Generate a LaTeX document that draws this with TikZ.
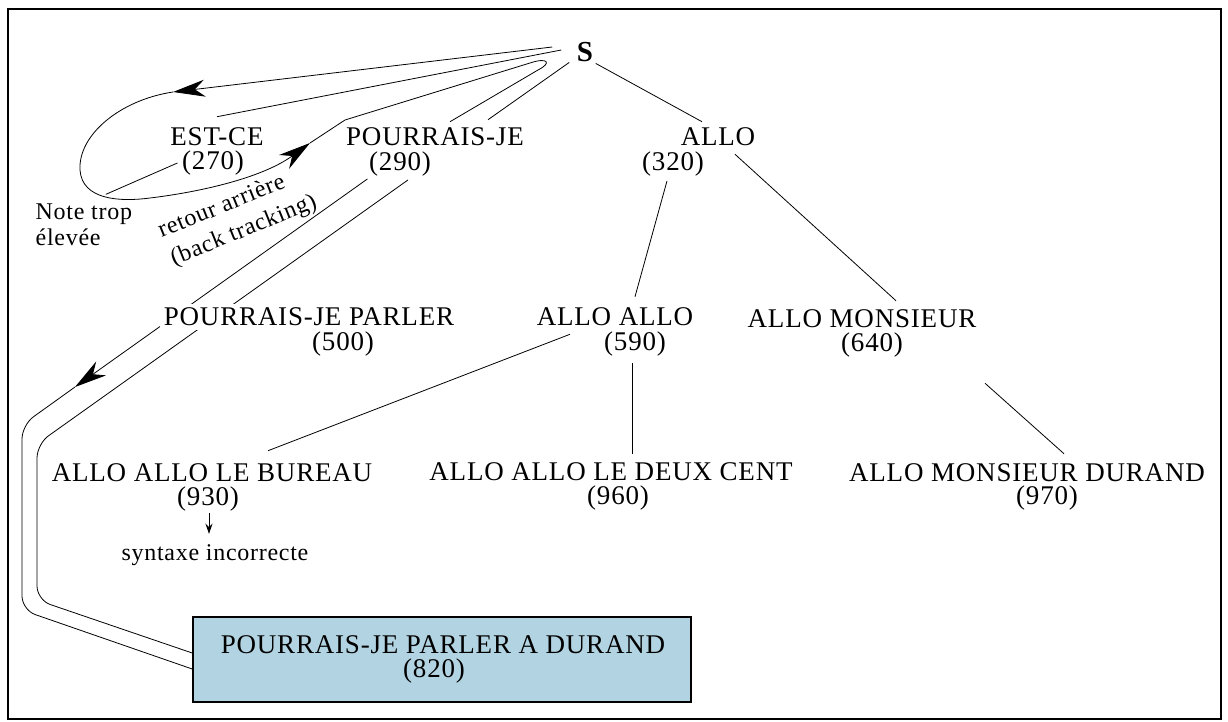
\documentclass[tikz,border=0pt]{standalone}
\usepackage{fontspec}
\setmainfont{Liberation Serif}
\newfontfamily\capsfont{Liberation Serif}[LetterSpace=3]
\usetikzlibrary{arrows.meta,calc}
\pgfdeclarelayer{bg}
\pgfsetlayers{bg,main}
\definecolor{goalblue}{RGB}{178,211,225}

\begin{document}
\begin{tikzpicture}[x=0.5pt, y=-0.5pt, line width=0.7pt,
    every node/.style={inner sep=2pt},
    lbl/.style={font=\capsfont\fontsize{13.5}{15}\selectfont},
    note/.style={font=\capsfont\fontsize{12}{13}\selectfont},
    root/.style={font=\bfseries\fontsize{14.5}{16}\selectfont},
    cover/.style={fill=white},
    goal/.style={draw, line width=0.8pt, fill=goalblue, inner sep=0pt,
        minimum width=249pt, minimum height=42.5pt},
    bigarrow/.style={-{Stealth[length=16pt, width=8.5pt, inset=5pt]}}]
    \useasboundingbox (0,0) rectangle (1228,722);

    \node[root] (S) at (585,52) {S};
    \node[lbl] (estce) at (217,137) {EST-CE};
    \node[lbl] (n270) at (213,163) {(270)};
    \node[lbl] (pje) at (435,137) {POURRAIS-JE};
    \node[lbl] (n290) at (400,164) {(290)};
    \node[lbl] (allo) at (718,137) {ALLO};
    \node[lbl] (n320) at (673,164) {(320)};

    \node[lbl, cover] (parler) at (309,317) {POURRAIS-JE PARLER};
    \node[lbl] (n500) at (343,344) {(500)};
    \node[lbl] (alloallo) at (615,317) {ALLO ALLO};
    \node[lbl] (n590) at (635,344) {(590)};
    \node[lbl] (monsieur) at (862,319) {ALLO MONSIEUR};
    \node[lbl] (n640) at (872,345) {(640)};

    \node[lbl] (bureau) at (212,473) {ALLO ALLO LE BUREAU};
    \node[lbl] (n930) at (208,499) {(930)};
    \node[lbl] (deuxcent) at (611,472) {ALLO ALLO LE DEUX CENT};
    \node[lbl] (n960) at (618,498) {(960)};
    \node[lbl] (durand) at (1027,473) {ALLO MONSIEUR DURAND};
    \node[lbl] (n970) at (1047,498) {(970)};
    \node[note] (syntax) at (215,555) {syntaxe incorrecte};

    \node[note, anchor=west, align=left] (trop) at (31,225) {Note trop\\élevée};
    \node[note, rotate=22] (retour) at (221,205) {retour arrière};
    \node[note, rotate=22] (backtr) at (244,231) {(back tracking)};

    \node[goal] (goal) at (442,659.5) {};
    \node[lbl] (goaltxt) at (443,645) {POURRAIS-JE PARLER A DURAND};
    \node[lbl] (n820) at (434,671) {(820)};

    \coordinate (a1) at (173,92);
    \coordinate (a2) at (310,143);
    \coordinate (a3) at (75,387);

    \begin{pgfonlayer}{bg}
    \draw[line width=1.1pt] (8,9) rectangle (1221,719);

    % tree
    \draw ([shift={(-11,-2)}]S.west) -- ([shift={(0,-6.5)}]estce.north);
    \draw ([shift={(-3,-4)}]S.south west) -- ([shift={(53,-3.5)}]pje.north);
    \draw ([shift={(-2,-3)}]S.south east) -- ([shift={(-16,-1.5)}]allo.north);
    \draw ([shift={(-6,0)}]n320.south) -- ([shift={(20,-6.5)}]alloallo.north);
    \draw ([shift={(17,3.5)}]allo.south) -- ([shift={(34,-4.5)}]monsieur.north);
    \draw ([shift={(-45,3.5)}]alloallo.south) -- ([shift={(56,-8.5)}]bureau.north);
    \draw ([shift={(-3,2)}]n590.south) -- ([shift={(21,-4.5)}]deuxcent.north);
    \draw ([shift={(4,50.5)}]monsieur.south east) -- ([shift={(37,-5.5)}]durand.north);
    \draw[-{Stealth[length=5pt, width=3.5pt]}] ([shift={(1,-3)}]n930.south)
        -- ([shift={(-6,-6)}]syntax.north);
    \draw ([shift={(22,-5)}]trop.north) -- (n270.west);

    % search path
    \draw[bigarrow] ([shift={(-20,-5)}]S.west) -- (a1);
    \draw[bigarrow] (a1) .. controls (120,100) and (78,135) .. (80,170)
        .. controls (82,200) and (120,202) .. (150,198)
        .. controls (200,192) and (262,178) .. (a2);
    \draw (a2) -- (345,120) -- (530,63) .. controls (548,57) and (552,63) .. (538,70)
        -- ([shift={(15,-1.5)}]pje.north);

    \draw[bigarrow] ([shift={(3,-2)}]n290.south west) -- (a3);
    \draw[rounded corners=7pt] (a3) -- (22,425) -- (22,610)
        -- ([shift={(0,9.5)}]goal.west);
    \draw[rounded corners=7pt] ([shift={(8,-1)}]n290.south) -- (37,444) -- (37,600)
        -- ([shift={(0,-6.5)}]goal.west);
    \end{pgfonlayer}
\end{tikzpicture}
\end{document}
